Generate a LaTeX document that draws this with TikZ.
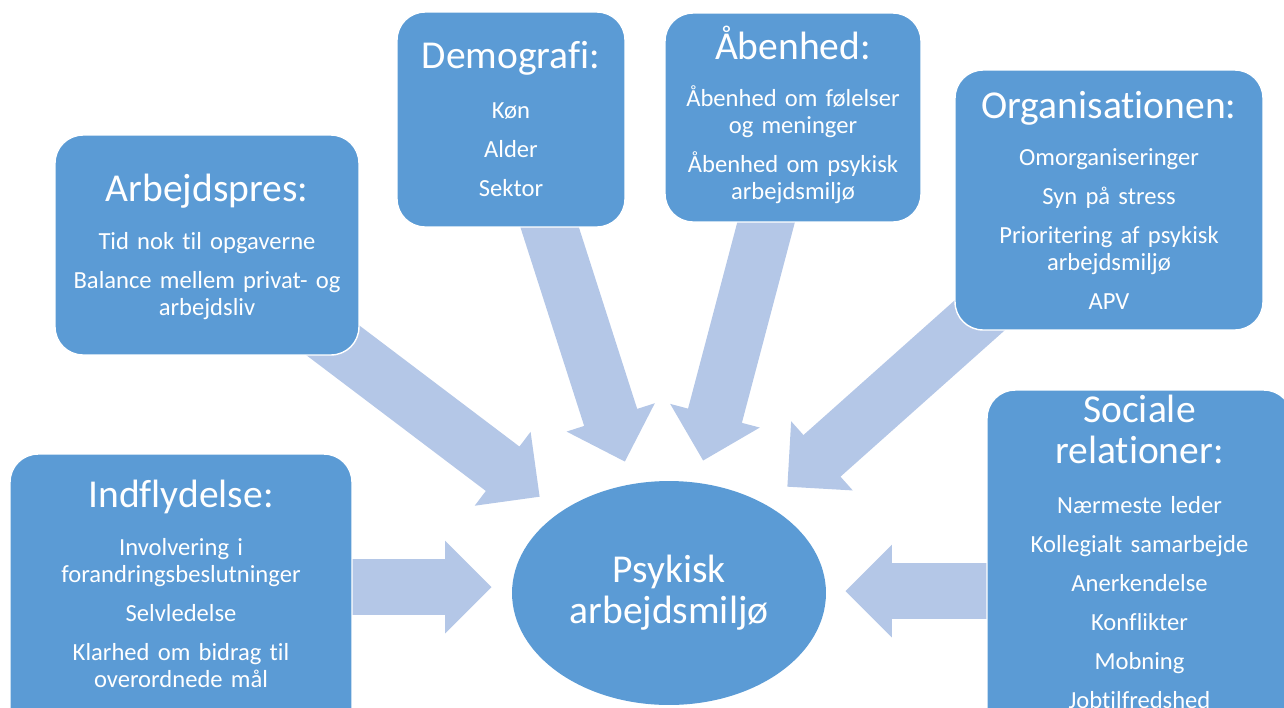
\documentclass[tikz,border=0pt]{standalone}
\usepackage{fontspec}
\setmainfont{Carlito}[Ligatures={NoCommon,NoRare}]
\usetikzlibrary{shapes.arrows,shapes.geometric}

\definecolor{boxblue}{HTML}{5B9BD5}
\definecolor{arrowblue}{HTML}{B4C7E7}

\tikzset{
    factor/.style={rectangle, rounded corners=0.56cm, fill=boxblue, draw=white, line width=0.8pt, inner sep=0pt},
    heading/.style={anchor=base, text=white, font=\fontsize{22.5}{23.5}\selectfont, align=center},
    points/.style={anchor=base, text=white, font=\fontsize{14}{15.4}\selectfont, align=center, text width=#1},
    push/.style={single arrow, fill=arrowblue, draw=none, anchor=tip, inner xsep=0pt, inner ysep=0.55cm, text height=0pt, text depth=0pt, minimum width=1.84cm, single arrow head extend=0.37cm},
}
\newcommand{\gap}{\\[6.8pt]}

\begin{document}
\begin{tikzpicture}[x=0.02cm, y=-0.02cm]
    % frame
    \useasboundingbox (0,0) rectangle (1284,707);
    \clip (0,0) rectangle (1284,707);

    % arrows
    \node[push, rotate=-37.1, minimum height=5.6cm] (pushA) at (540,497) {};
    \node[push, rotate=-72.2, minimum height=5.5cm] (pushD) at (625,462) {};
    \node[push, rotate=-104.8, minimum height=5.4cm] (pushB) at (703,461) {};
    \node[push, rotate=-138.3, minimum height=6cm] (pushO) at (787,487) {};
    \node[push, minimum height=3cm] (pushI) at (492,587) {};
    \node[push, rotate=180, minimum height=3cm] (pushS) at (845,591) {};

    % boxes
    \node[factor, minimum width=6.08cm, minimum height=4.4cm] (arbejd) at (207,245) {};
    \node[factor, minimum width=4.56cm, minimum height=4.3cm] (demo) at (511,119.5) {};
    \node[factor, minimum width=5.12cm, minimum height=4.18cm] (aaben) at (793,117.5) {};
    \node[factor, minimum width=6.16cm, minimum height=5.2cm] (organ) at (1109,200) {};
    \node[factor, minimum width=6.84cm, minimum height=5.92cm] (indfl) at (181,602) {};
    \node[factor, minimum width=6.1cm, minimum height=7.2cm] (social) at (1139.5,570) {};

    % centre
    \node[ellipse, fill=boxblue, minimum width=6.28cm, minimum height=4.48cm] (core) at (669,593) {};
    \node[heading, text width=6cm] (coreT) at (669,582) {Psykisk\\arbejdsmiljø};

    % Arbejdspres
    \node[heading] (arbejdT) at (207,201) {Arbejdspres:};
    \node[points=5.9cm] (arbejdP) at (207,249) {Tid nok til opgaverne\gap Balance mellem privat- og\\arbejdsliv};

    % Demografi
    \node[heading] (demoT) at (511,68) {Demografi:};
    \node[points=4.4cm] (demoP) at (511,118) {Køn\gap Alder\gap Sektor};

    % Aabenhed
    \node[heading] (aabenT) at (793,59) {Åbenhed:};
    \node[points=5cm] (aabenP) at (793,106) {Åbenhed om følelser\\og meninger\gap Åbenhed om psykisk\\arbejdsmiljø};

    % Organisationen
    \node[heading] (organT) at (1109,118) {Organisationen:};
    \node[points=6cm] (organP) at (1109,165) {Omorganiseringer\gap Syn på stress\gap Prioritering af psykisk\\arbejdsmiljø\gap APV};

    % Indflydelse
    \node[heading] (indflT) at (181,507) {Indflydelse:};
    \node[points=6.6cm] (indflP) at (181,555) {Involvering i\\forandringsbeslutninger\gap Selvledelse\gap Klarhed om bidrag til\\overordnede mål};

    % Sociale relationer
    \node[heading, text width=5.9cm] (socialT) at (1139.5,422) {Sociale\\relationer:};
    \node[points=5.9cm] (socialP) at (1139.5,513) {Nærmeste leder\gap Kollegialt samarbejde\gap Anerkendelse\gap Konflikter\gap Mobning\gap Jobtilfredshed};
\end{tikzpicture}
\end{document}
